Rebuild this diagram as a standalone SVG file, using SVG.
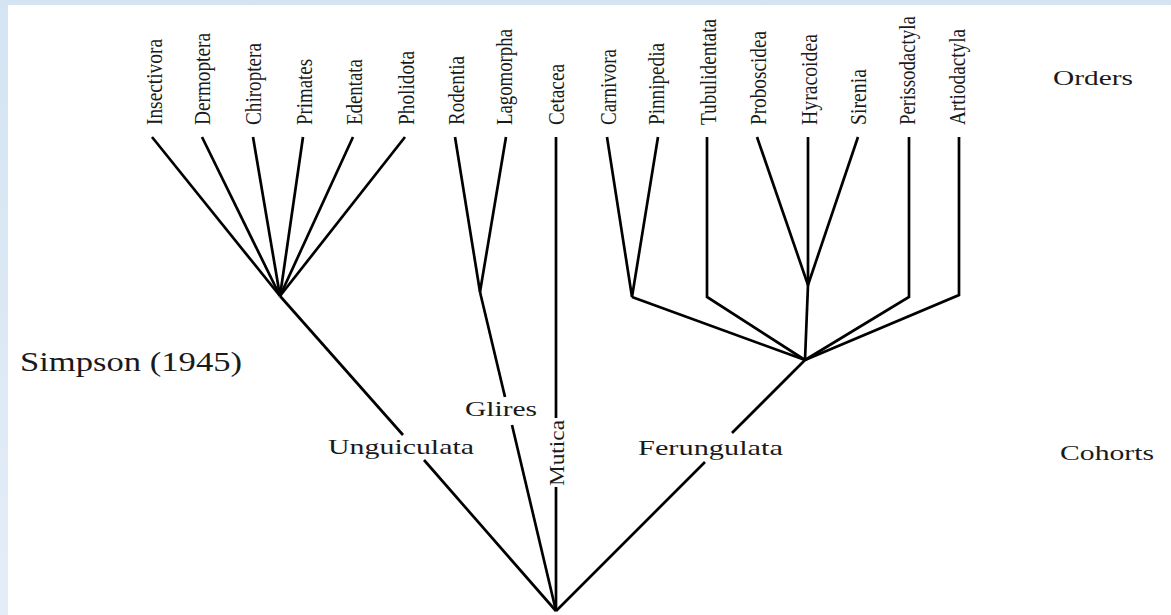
<svg xmlns="http://www.w3.org/2000/svg" width="1171" height="615" viewBox="0 0 1171 615">
<style>
.panel{fill:#ffffff}
.ln{stroke:#000;stroke-width:2.7;fill:none;stroke-linecap:butt;stroke-linejoin:miter}
.ord{font-family:"Liberation Serif","Times New Roman",serif;font-size:23px;fill:#1a1a1a}
.lab{font-family:"Liberation Serif","Times New Roman",serif;font-size:22px;fill:#1a1a1a}
</style>
<defs>
<linearGradient id="g" x1="0" y1="0" x2="0" y2="1">
<stop offset="0" stop-color="#d4e4f2"/>
<stop offset="1" stop-color="#e3edf7"/>
</linearGradient>
</defs>
<rect x="0" y="0" width="1171" height="615" fill="url(#g)"/>
<rect class="panel" x="8" y="5" width="1163" height="610"/>

<g id="connectors">
<line class="ln" x1="152" y1="137" x2="280" y2="296"/>
<line class="ln" x1="202" y1="137" x2="280" y2="296"/>
<line class="ln" x1="253" y1="137" x2="280" y2="296"/>
<line class="ln" x1="303" y1="137" x2="280" y2="296"/>
<line class="ln" x1="353" y1="137" x2="280" y2="296"/>
<line class="ln" x1="405" y1="137" x2="280" y2="296"/>
<line class="ln" x1="280" y1="296" x2="403" y2="435"/>
<line class="ln" x1="424" y1="460" x2="556" y2="611"/>
<line class="ln" x1="455" y1="137" x2="480" y2="292"/>
<line class="ln" x1="506" y1="137" x2="480" y2="292"/>
<line class="ln" x1="480" y1="292" x2="505" y2="397"/>
<line class="ln" x1="512" y1="425" x2="556" y2="611"/>
<line class="ln" x1="556" y1="137" x2="556" y2="418"/>
<line class="ln" x1="556" y1="487" x2="556" y2="611"/>
<polyline class="ln" points="607,137 632,297 658,137"/>
<polyline class="ln" points="707,137 707,297 805,360"/>
<line class="ln" x1="632" y1="297" x2="805" y2="360"/>
<line class="ln" x1="757" y1="137" x2="808" y2="285"/>
<line class="ln" x1="858" y1="137" x2="808" y2="285"/>
<line class="ln" x1="808" y1="137" x2="808" y2="285"/>
<line class="ln" x1="808" y1="285" x2="805" y2="360"/>
<polyline class="ln" points="909,137 909,297 805,360"/>
<polyline class="ln" points="959,137 959,295 805,360"/>
<line class="ln" x1="805" y1="360" x2="732" y2="433"/>
<line class="ln" x1="705" y1="462" x2="556" y2="611"/>
</g>

<g id="order-insectivora"><text class="ord" transform="translate(162,125) rotate(-90)" textLength="86" lengthAdjust="spacingAndGlyphs">Insectivora</text></g>
<g id="order-dermoptera"><text class="ord" transform="translate(210,125) rotate(-90)" textLength="92" lengthAdjust="spacingAndGlyphs">Dermoptera</text></g>
<g id="order-chiroptera"><text class="ord" transform="translate(261,125) rotate(-90)" textLength="82" lengthAdjust="spacingAndGlyphs">Chiroptera</text></g>
<g id="order-primates"><text class="ord" transform="translate(312,125) rotate(-90)" textLength="66" lengthAdjust="spacingAndGlyphs">Primates</text></g>
<g id="order-edentata"><text class="ord" transform="translate(362,125) rotate(-90)" textLength="66" lengthAdjust="spacingAndGlyphs">Edentata</text></g>
<g id="order-pholidota"><text class="ord" transform="translate(414,125) rotate(-90)" textLength="74" lengthAdjust="spacingAndGlyphs">Pholidota</text></g>
<g id="order-rodentia"><text class="ord" transform="translate(464,125) rotate(-90)" textLength="69" lengthAdjust="spacingAndGlyphs">Rodentia</text></g>
<g id="order-lagomorpha"><text class="ord" transform="translate(512,125) rotate(-90)" textLength="96" lengthAdjust="spacingAndGlyphs">Lagomorpha</text></g>
<g id="order-cetacea"><text class="ord" transform="translate(564,125) rotate(-90)" textLength="61" lengthAdjust="spacingAndGlyphs">Cetacea</text></g>
<g id="order-carnivora"><text class="ord" transform="translate(616,125) rotate(-90)" textLength="76" lengthAdjust="spacingAndGlyphs">Carnivora</text></g>
<g id="order-pinnipedia"><text class="ord" transform="translate(664,125) rotate(-90)" textLength="82" lengthAdjust="spacingAndGlyphs">Pinnipedia</text></g>
<g id="order-tubulidentata"><text class="ord" transform="translate(716,125) rotate(-90)" textLength="106" lengthAdjust="spacingAndGlyphs">Tubulidentata</text></g>
<g id="order-proboscidea"><text class="ord" transform="translate(766,125) rotate(-90)" textLength="94" lengthAdjust="spacingAndGlyphs">Proboscidea</text></g>
<g id="order-hyracoidea"><text class="ord" transform="translate(817,125) rotate(-90)" textLength="91" lengthAdjust="spacingAndGlyphs">Hyracoidea</text></g>
<g id="order-sirenia"><text class="ord" transform="translate(866,125) rotate(-90)" textLength="56" lengthAdjust="spacingAndGlyphs">Sirenia</text></g>
<g id="order-perissodactyla"><text class="ord" transform="translate(915,125) rotate(-90) scale(0.82,1)">Perissodactyla</text></g>
<g id="order-artiodactyla"><text class="ord" transform="translate(965,125) rotate(-90)" textLength="96" lengthAdjust="spacingAndGlyphs">Artiodactyla</text></g>

<g id="label-orders"><text class="lab" x="1053" y="85" textLength="80" lengthAdjust="spacingAndGlyphs">Orders</text></g>
<g id="label-cohorts"><text class="lab" x="1060" y="460" textLength="94" lengthAdjust="spacingAndGlyphs">Cohorts</text></g>
<g id="label-simpson"><text class="lab" x="20" y="371" style="font-size:27px" textLength="222" lengthAdjust="spacingAndGlyphs">Simpson (1945)</text></g>
<g id="cohort-unguiculata"><text class="lab" x="328" y="454" textLength="146" lengthAdjust="spacingAndGlyphs">Unguiculata</text></g>
<g id="cohort-glires"><text class="lab" x="465" y="416" textLength="72" lengthAdjust="spacingAndGlyphs">Glires</text></g>
<g id="cohort-mutica"><text class="lab" transform="translate(564,486) rotate(-90)" textLength="66" lengthAdjust="spacingAndGlyphs">Mutica</text></g>
<g id="cohort-ferungulata"><text class="lab" x="638" y="455" textLength="145" lengthAdjust="spacingAndGlyphs">Ferungulata</text></g>
</svg>
